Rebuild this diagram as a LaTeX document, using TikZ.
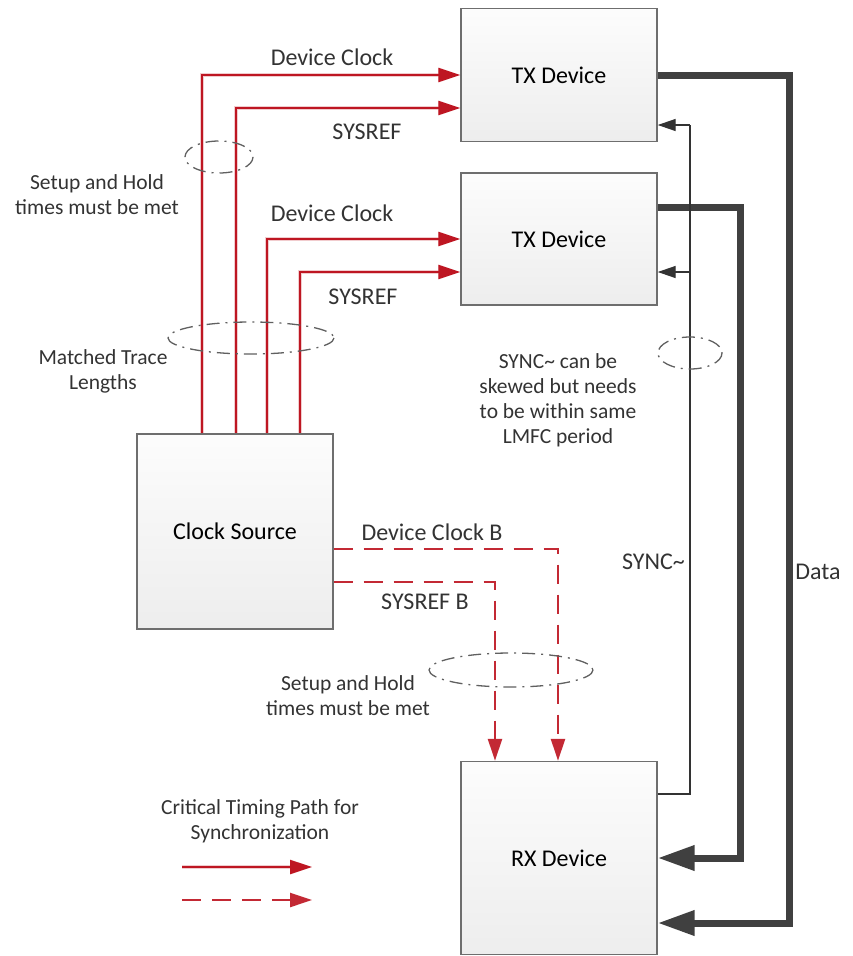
\documentclass[tikz,border=0pt]{standalone}
\usepackage{fontspec}
\setmainfont{Carlito}
\usetikzlibrary{arrows.meta,calc}
\definecolor{sigred}{RGB}{190,22,34}
\definecolor{boxedge}{RGB}{110,110,110}
\definecolor{datagray}{RGB}{64,64,64}
\tikzset{
  devbox/.style={draw=boxedge,line width=1.4pt,top color=gray!2,bottom color=gray!14,minimum width=196pt,inner sep=0pt,font=\fontsize{24}{29}\selectfont},
  redline/.style={draw=sigred,line width=1.7pt,preaction={draw=sigred!22,line width=4pt},-{Triangle[length=22pt,width=14pt]}},
  reddash/.style={draw=sigred!92,line width=2.4pt,dash pattern=on 19pt off 11pt,-{Triangle[length=22pt,width=14pt]}},
  dataline/.style={draw=datagray,line width=7pt,-{Triangle[length=37pt,width=24pt]}},
  syncline/.style={draw=datagray!80!black,line width=1.3pt},
  syncarrow/.style={syncline,-{Triangle[length=18pt,width=12pt]}},
  grp/.style={draw=gray!75!black,line width=1.3pt,dash pattern=on 13pt off 6pt on 2pt off 6pt},
  biglabel/.style={font=\fontsize{24}{29}\selectfont,text=black!80,inner sep=0pt},
  smalllabel/.style={font=\fontsize{21.5}{25}\selectfont,text=black!80,align=center,inner sep=0pt},
}
\begin{document}
\begin{tikzpicture}[x=1pt,y=-1pt]
\useasboundingbox (0,0) rectangle (853,956);
% boxes
\node[devbox,minimum height=133pt] (tx1) at (559,75) {TX Device};
\node[devbox,minimum height=132pt] (tx2) at (559,239) {TX Device};
\node[devbox,minimum height=195pt] (cs) at (235,531.5) {Clock Source};
\node[devbox,minimum height=193pt] (rx) at (559,858) {RX Device};
% column coordinates
\coordinate (c1) at (202,0);
\coordinate (c2) at (236,0);
\coordinate (c3) at (267,0);
\coordinate (c4) at (300,0);
\coordinate (d1) at (495,0);
\coordinate (d2) at (558,0);
\coordinate (sx) at (690,0);
\coordinate (dx1) at (740,0);
\coordinate (dx2) at (789,0);
% solid red clock lines
\draw[redline] (cs.north -| c1) |- (tx1.west);
\draw[redline] (cs.north -| c2) |- ([yshift=-33pt]tx1.west);
\draw[redline] (cs.north -| c3) |- (tx2.west);
\draw[redline] (cs.north -| c4) |- ([yshift=-33pt]tx2.west);
% dashed red lines
\coordinate (db1) at ([yshift=-17.5pt]cs.east);
\coordinate (db2) at ([yshift=-50.5pt]cs.east);
\draw[reddash] (db1) -| (rx.north -| d2);
\draw[reddash] (db2) -| (rx.north -| d1);
% data lines
\draw[dataline] (tx1.east) -| (dx2 |- 0,923) -- ([yshift=-65pt]rx.east);
\draw[dataline] ([yshift=32pt]tx2.east) -| (dx1 |- rx.east) -- (rx.east);
% sync line
\coordinate (so) at ([yshift=64pt]rx.east);
\draw[syncline] (so) -| (sx |- 0,125);
\draw[syncarrow] (sx |- 0,125) -- ([yshift=-50pt]tx1.east);
\draw[syncarrow] (sx |- 0,272) -- ([yshift=-33pt]tx2.east);
% grouping ellipses
\draw[grp] (219,157) ellipse [x radius=34, y radius=16];
\draw[grp] (251,338) ellipse [x radius=83, y radius=16];
\draw[grp] (690,353) ellipse [x radius=32, y radius=16];
\draw[grp] (511,670) ellipse [x radius=82, y radius=17];
% labels
\node[biglabel] (l1) at (332,57) {Device Clock};
\node[biglabel] (l2) at (367,132) {SYSREF};
\node[biglabel] (l3) at (332,213) {Device Clock};
\node[biglabel] (l4) at (363,297) {SYSREF};
\node[biglabel] (l5) at (432,532) {Device Clock B};
\node[biglabel] (l6) at (425,602) {SYSREF B};
\node[biglabel,anchor=east] (l7) at (685,562) {SYNC\textasciitilde};
\node[biglabel] (l8) at (818,572) {Data};
\node[smalllabel] (s1) at (97,195) {Setup and Hold\\times must be met};
\node[smalllabel] (s2) at (103,371) {Matched Trace\\Lengths};
\node[smalllabel] (s3) at (348,696) {Setup and Hold\\times must be met};
\node[smalllabel] (s4) at (558,400) {SYNC\textasciitilde{} can be\\skewed but needs\\to be within same\\LMFC period};
\node[smalllabel] (s5) at (260,821) {Critical Timing Path for\\Synchronization};
% legend
\coordinate (la) at (182,867);
\coordinate (lb) at (312,867);
\coordinate (lc) at (182,900);
\coordinate (ld) at (312,900);
\draw[redline] (la) -- (lb);
\draw[reddash] (lc) -- (ld);
\end{tikzpicture}
\end{document}
